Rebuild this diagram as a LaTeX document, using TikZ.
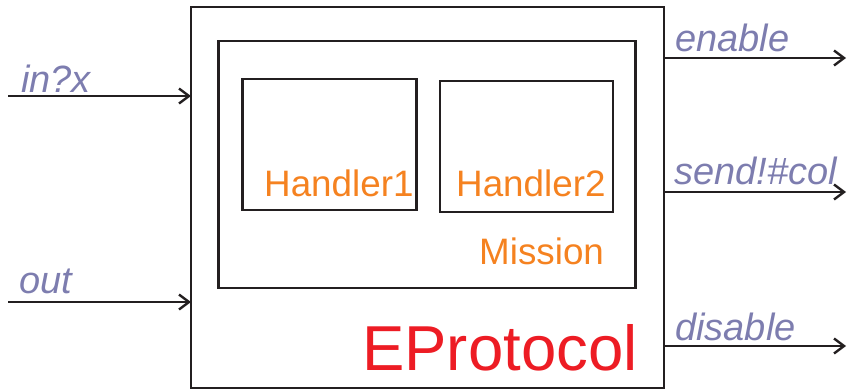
\documentclass[tikz,border=0pt]{standalone}
\usepackage{fontspec}
\setmainfont{Liberation Sans}
\usetikzlibrary{arrows.meta}
\definecolor{lbl}{RGB}{125,125,175}
\definecolor{org}{RGB}{245,130,32}
\definecolor{rd}{RGB}{237,28,36}
\definecolor{ln}{RGB}{35,31,32}
\tikzset{
  box/.style={draw=ln,line width=2.4pt,fill=none},
  sig/.style={draw=ln,line width=2.4pt,-{Straight Barb[length=10pt,width=15pt,line width=2.4pt]}},
  siglbl/.style={text=lbl,anchor=base west,inner sep=0pt,font=\fontsize{38}{42}\selectfont\itshape},
  inner/.style={text=org,anchor=base west,inner sep=0pt,font=\fontsize{36.8}{40}\selectfont},
}
\begin{document}
\begin{tikzpicture}[x=1pt,y=-1pt]
\useasboundingbox (0,0) rectangle (848,389);
% boxes
\draw[box] (191,7) rectangle (664,388);
\coordinate (outerL) at (191,0);
\coordinate (outerR) at (664,0);
\draw[box] (218.5,41) rectangle (635.5,288);
\draw[box] (242.5,79) rectangle (416.5,210);
\draw[box] (440,81) rectangle (613,212);
% inner texts
\node[inner] (h1) at (264,196) {Handler1};
\node[inner] (h2) at (456,196) {Handler2};
\node[inner] (mis) at (479,264) {Mission};
\node[text=rd,anchor=base west,inner sep=0pt,font=\fontsize{63.5}{70}\selectfont] (ep) at (362,370.5) {EProtocol};
% input signals
\coordinate (i1) at (8,96);
\coordinate (i2) at (8,302);
\draw[sig] (i1) -- (i1 -| outerL);
\draw[sig] (i2) -- (i2 -| outerL);
\node[siglbl] (l1) at (21,92.5) {in?x};
\node[siglbl] (l2) at (19.5,293) {out};
% output signals
\coordinate (o1) at (846,58);
\coordinate (o2) at (846,192);
\coordinate (o3) at (846,346);
\draw[sig] (o1 -| outerR) -- (o1);
\draw[sig] (o2 -| outerR) -- (o2);
\draw[sig] (o3 -| outerR) -- (o3);
\node[siglbl] (r1) at (675,51) {enable};
\node[siglbl] (r2) at (674,184) {send!\#col};
\node[siglbl] (r3) at (675,340) {disable};
\end{tikzpicture}
\end{document}
